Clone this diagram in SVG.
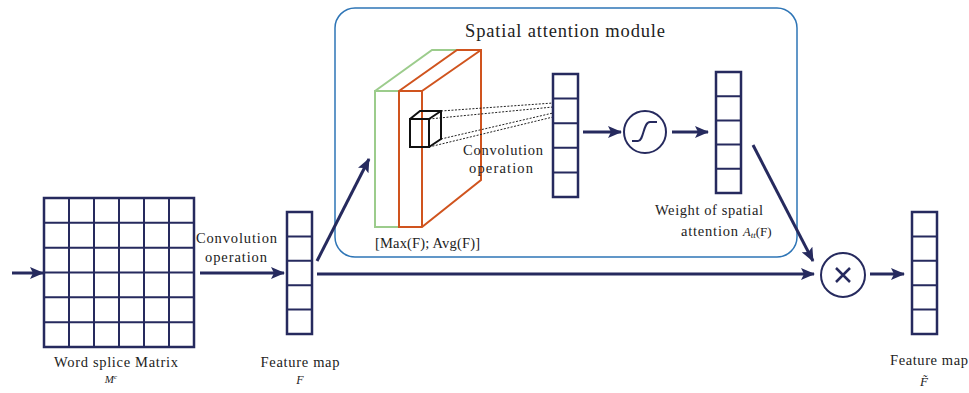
<svg xmlns="http://www.w3.org/2000/svg" width="969" height="393" viewBox="0 0 969 393">
  <defs>
    <marker id="arrow" markerUnits="userSpaceOnUse" markerWidth="14" markerHeight="12" refX="13" refY="6" orient="auto">
      <path d="M0,0 L14,6 L0,12 L3,6 Z" fill="#262a5e"/>
    </marker>
    <style>
      .grid { fill: #ffffff; stroke: #262a5e; stroke-width: 2.5; }
      .cell { stroke: #262a5e; stroke-width: 2; }
      .conn { fill: none; stroke: #262a5e; stroke-width: 3; }
      .txt { font-family: 'Liberation Serif', 'Noto Serif CJK SC', serif; font-size: 14.5px; fill: #222222; }
      .ital { font-style: italic; }
      .dots { stroke: #222222; stroke-width: 1; stroke-dasharray: 2 1.5; fill: none; }
    </style>
  </defs>

  <rect width="969" height="393" fill="#ffffff"/>

  <!-- spatial attention module frame -->
  <g id="module">
    <rect x="335" y="8" width="462" height="249" rx="20" ry="20" fill="none" stroke="#2e75b6" stroke-width="1.5"/>
    <text class="txt" x="565" y="37" text-anchor="middle" style="font-size:18.5px" textLength="200" lengthAdjust="spacing">Spatial attention module</text>
  </g>

  <!-- input word splice matrix -->
  <g id="matrix">
    <rect class="grid" x="44" y="198" width="150" height="149"/>
    <path class="cell" d="M69,198V347 M94,198V347 M119,198V347 M144,198V347 M169,198V347
                          M44,222.8H194 M44,247.7H194 M44,272.5H194 M44,297.3H194 M44,322.2H194"/>
    <text class="txt" x="116" y="367" text-anchor="middle" textLength="124" lengthAdjust="spacing">Word splice Matrix</text>
    <text class="txt ital" x="111" y="383" text-anchor="middle" style="font-size:11px">M<tspan dy="-4" style="font-size:7px">c</tspan></text>
  </g>

  <!-- feature map F -->
  <g id="feature-map">
    <rect class="grid" x="287" y="212" width="25" height="122"/>
    <path class="cell" d="M287,236.4H312 M287,260.8H312 M287,285.2H312 M287,309.6H312"/>
    <text class="txt" x="300" y="367" text-anchor="middle" textLength="79" lengthAdjust="spacing">Feature map</text>
    <text class="txt ital" x="300" y="384" text-anchor="middle" style="font-size:12px">F</text>
  </g>

  <!-- pooled maps [Max(F); Avg(F)] -->
  <g id="pooled-maps">
    <path d="M375,91 L432,50 L457,50" fill="none" stroke="#9ccc8c" stroke-width="2"/>
    <rect x="375" y="91" width="24" height="136" fill="#ffffff" stroke="#9ccc8c" stroke-width="2"/>
    <path d="M399,91 L457,50 L481,50 L481,180 L422,227 L399,227 Z" fill="#ffffff" stroke="#d0541e" stroke-width="2" stroke-linejoin="miter"/>
    <path d="M422,91 L481,50 M399,91 H422 V227" fill="none" stroke="#d0541e" stroke-width="2"/>
    <text class="txt" x="427.5" y="248" text-anchor="middle" textLength="105" lengthAdjust="spacing">[Max(F); Avg(F)]</text>
  </g>

  <!-- convolution kernel -->
  <g id="kernel">
    <path class="dots" d="M441,111 L553,103 M429,119 L553,107 M441,139 L553,113 M429,147 L553,117"/>
    <rect x="410" y="119" width="19" height="28" fill="none" stroke="#111111" stroke-width="2"/>
    <path d="M410,119 L420,111 H441 V139 L429,147 M429,119 L441,111" fill="none" stroke="#111111" stroke-width="2" stroke-linejoin="miter"/>
    <text class="txt" x="503" y="155" text-anchor="middle" textLength="80" lengthAdjust="spacing">Convolution</text>
    <text class="txt" x="501" y="173" text-anchor="middle" textLength="64" lengthAdjust="spacing">operation</text>
  </g>

  <!-- convolved map -->
  <g id="conv-map">
    <rect class="grid" x="553" y="74" width="25" height="123"/>
    <path class="cell" d="M553,98.6H578 M553,123.2H578 M553,147.8H578 M553,172.4H578"/>
  </g>

  <!-- sigmoid -->
  <g id="sigmoid">
    <circle cx="645" cy="132" r="21" fill="#ffffff" stroke="#262a5e" stroke-width="2"/>
    <path d="M632,141 H638 C644,141 643,122 650,122 H657" fill="none" stroke="#262a5e" stroke-width="2"/>
  </g>

  <!-- spatial attention weights -->
  <g id="weights">
    <rect class="grid" x="716" y="72" width="25" height="121"/>
    <path class="cell" d="M716,96.2H741 M716,120.4H741 M716,144.6H741 M716,168.8H741"/>
    <text class="txt" x="709" y="215" text-anchor="middle" textLength="108" lengthAdjust="spacing">Weight of spatial</text>
    <text class="txt" x="681" y="236"><tspan textLength="57" lengthAdjust="spacing">attention</tspan><tspan class="ital" x="743" style="font-size:12.5px">A</tspan><tspan class="ital" dy="2" style="font-size:9px">tt</tspan><tspan dy="-2" style="font-size:13px">(F)</tspan></text>
  </g>

  <!-- element-wise multiplication -->
  <g id="multiply">
    <circle cx="843" cy="275" r="22" fill="#ffffff" stroke="#262a5e" stroke-width="2"/>
    <path d="M836,268 L850,282 M850,268 L836,282" stroke="#262a5e" stroke-width="2.5"/>
  </g>

  <!-- refined feature map -->
  <g id="output-map">
    <rect class="grid" x="912" y="212" width="25" height="122"/>
    <path class="cell" d="M912,236.4H937 M912,260.8H937 M912,285.2H937 M912,309.6H937"/>
    <text class="txt" x="929" y="365" text-anchor="middle" textLength="78" lengthAdjust="spacing">Feature map</text>
    <text class="txt ital" x="924" y="386" text-anchor="middle" style="font-size:13px">F&#x0303;</text>
  </g>

  <!-- connectors -->
  <g id="connectors">
    <line class="conn" x1="12" y1="273" x2="43" y2="273" marker-end="url(#arrow)"/>
    <line class="conn" x1="200" y1="273" x2="284" y2="273" marker-end="url(#arrow)"/>
    <text class="txt" x="236.5" y="243" text-anchor="middle" textLength="81" lengthAdjust="spacing">Convolution</text>
    <text class="txt" x="236" y="262" text-anchor="middle" textLength="62" lengthAdjust="spacing">operation</text>
    <line class="conn" x1="317" y1="274" x2="814" y2="274" marker-end="url(#arrow)"/>
    <line class="conn" x1="317" y1="261" x2="369" y2="159" marker-end="url(#arrow)"/>
    <line class="conn" x1="583" y1="132" x2="621" y2="132" marker-end="url(#arrow)"/>
    <line class="conn" x1="672" y1="132" x2="708" y2="132" marker-end="url(#arrow)"/>
    <line class="conn" x1="753" y1="145" x2="813" y2="261" marker-end="url(#arrow)"/>
    <line class="conn" x1="870" y1="274" x2="904" y2="274" marker-end="url(#arrow)"/>
  </g>
</svg>
